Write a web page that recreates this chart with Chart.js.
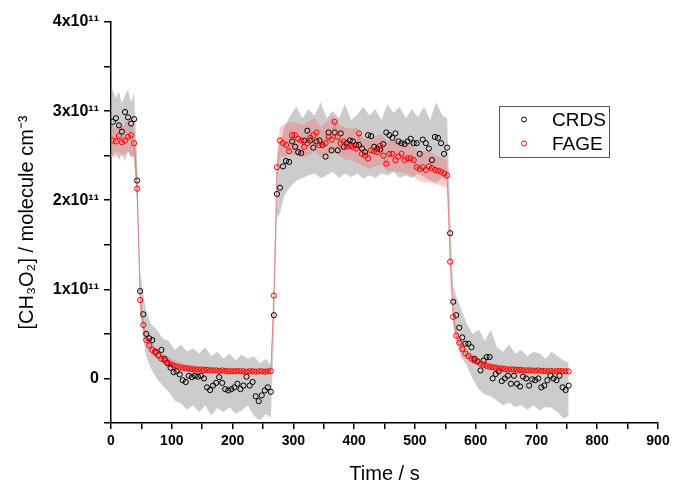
<!DOCTYPE html>
<html>
<head>
<meta charset="utf-8">
<script src="https://cdn.jsdelivr.net/npm/chart.js@4.4.1/dist/chart.umd.min.js"></script>
<style>
  html, body { margin: 0; padding: 0; background: #fff; }
  #wrap { width: 675px; height: 484px; }
</style>
</head>
<body>
<div id="wrap"><canvas id="chart" width="675" height="484"></canvas></div>
<script>
// --- data (y in units of 1x10^11 molecule cm-3) ---
const seriesNames = ["CRDS", "FAGE"];

const times = [
  3, 8, 13, 18, 23, 28, 33, 38, 43, 48,
  53, 58, 63, 68, 73, 78, 83, 88, 93, 98,
  103, 108, 113, 118, 123, 128, 133, 138, 143, 148,
  153, 158, 163, 168, 173, 178, 183, 188, 193, 198,
  203, 208, 213, 218, 223, 228, 233, 238, 243, 248,
  253, 258, 263, 268, 273, 278, 283, 288, 293, 298,
  303, 308, 313, 318, 323, 328, 333, 338, 343, 348,
  353, 358, 363, 368, 373, 378, 383, 388, 393, 398,
  403, 408, 413, 418, 423, 428, 433, 438, 443, 448,
  453, 458, 463, 468, 473, 478, 483, 488, 493, 498,
  503, 508, 513, 518, 523, 528, 533, 538, 543, 548,
  553, 558, 563, 568, 573, 578, 583, 588, 593, 598,
  603, 608, 613, 618, 623, 628, 633, 638, 643, 648,
  653, 658, 663, 668, 673, 678, 683, 688, 693, 698,
  703, 708, 713, 718, 723, 728, 733, 738, 743, 748,
  753
];

const crds = [
  2.88, 2.92, 2.84, 2.77, 2.99, 2.93, 2.86, 2.91, 2.22, 0.98,
  0.72, 0.50, 0.45, 0.43, 0.30, 0.26, 0.32, 0.22, 0.17, 0.12,
  0.07, 0.08, 0.045, -0.02, -0.04, 0.03, 0.015, 0.03, 0.02, 0.03,
  0.00, -0.10, -0.13, -0.08, -0.05, 0.015, -0.05, -0.12, -0.135, -0.12,
  -0.10, -0.06, -0.12, -0.08, 0.02, -0.08, -0.04, -0.20, -0.255, -0.19,
  -0.135, -0.10, -0.15, 0.71, 2.07, 2.14, 2.38, 2.44, 2.43, 2.66,
  2.60, 2.54, 2.53, 2.67, 2.78, 2.67, 2.59, 2.66, 2.67, 2.62,
  2.49, 2.76, 2.56, 2.76, 2.56, 2.75, 2.60, 2.64, 2.67, 2.66,
  2.62, 2.62, 2.58, 2.54, 2.73, 2.72, 2.60, 2.58, 2.57, 2.63,
  2.76, 2.73, 2.70, 2.75, 2.66, 2.64, 2.63, 2.66, 2.69, 2.64,
  2.64, 2.52, 2.68, 2.64, 2.58, 2.45, 2.71, 2.70, 2.64, 2.52,
  2.59, 1.63, 0.86, 0.71, 0.57, 0.46, 0.39, 0.39, 0.35, 0.22,
  0.19, 0.09, 0.20, 0.24, 0.24, 0.00, 0.05, 0.08, -0.03, 0.00,
  0.03, -0.06, 0.03, -0.06, -0.09, 0.02, 0.00, -0.08, -0.01, -0.02,
  0.00, -0.10, -0.08, -0.02, 0.03, 0.00, -0.02, 0.03, -0.10, -0.13,
  -0.08
];

const fage = [
  2.67, 2.66, 2.72, 2.65, 2.67, 2.71, 2.73, 2.64, 2.13, 0.88,
  0.60, 0.43, 0.37, 0.32, 0.29, 0.26, 0.22, 0.20, 0.18, 0.16,
  0.145, 0.135, 0.125, 0.12, 0.115, 0.11, 0.105, 0.10, 0.10, 0.10,
  0.095, 0.095, 0.09, 0.09, 0.09, 0.085, 0.09, 0.085, 0.08, 0.08,
  0.08, 0.085, 0.08, 0.08, 0.075, 0.08, 0.08, 0.075, 0.08, 0.08,
  0.075, 0.08, 0.08, 0.93, 2.37, 2.67, 2.64, 2.62, 2.55, 2.73,
  2.73, 2.69, 2.67, 2.60, 2.64, 2.70, 2.73, 2.76, 2.62, 2.62,
  2.64, 2.71, 2.68, 2.88, 2.71, 2.64, 2.66, 2.60, 2.61, 2.60,
  2.58, 2.75, 2.52, 2.50, 2.47, 2.56, 2.55, 2.54, 2.61, 2.50,
  2.41, 2.52, 2.52, 2.45, 2.49, 2.52, 2.45, 2.47, 2.47, 2.45,
  2.37, 2.35, 2.37, 2.34, 2.38, 2.36, 2.34, 2.33, 2.32, 2.30,
  2.28, 1.31, 0.69, 0.48, 0.40, 0.33, 0.28, 0.25, 0.22, 0.20,
  0.19, 0.165, 0.15, 0.14, 0.13, 0.125, 0.12, 0.11, 0.11, 0.105,
  0.10, 0.10, 0.10, 0.095, 0.095, 0.09, 0.09, 0.09, 0.09, 0.085,
  0.09, 0.085, 0.085, 0.08, 0.085, 0.08, 0.08, 0.085, 0.08, 0.08,
  0.08
];

// uncertainty bands (upper / lower edges)
const bandTimes = [
  1, 8, 13, 18, 23, 28, 33, 38, 43, 48, 53, 58,
  65, 75, 85, 95, 105, 115, 125, 135, 145, 155, 165, 175, 185, 195, 205, 215, 225, 235, 245, 255,
  263, 268, 273, 278,
  285, 295, 305, 315, 325, 335, 345, 355, 365, 375, 385, 395, 405, 415, 425, 435, 445, 455, 465,
  475, 485, 495, 505, 515, 525, 535, 545,
  553, 558, 563, 568,
  575, 585, 595, 605, 615, 625, 635, 645, 655, 665, 675, 685, 695, 705, 715, 725, 735, 745,
  753
];

const crdsHi = [
  3.26, 3.15, 3.22, 3.08, 3.18, 3.24, 3.10, 3.20, 2.45, 1.20, 0.95, 0.76,
  0.62, 0.55, 0.45, 0.42, 0.32, 0.38, 0.30, 0.34, 0.28, 0.35, 0.25, 0.30, 0.22, 0.28, 0.20, 0.27, 0.22, 0.25, 0.17, 0.22,
  0.15, 1.00, 2.35, 2.60,
  2.82, 2.95, 3.05, 2.92, 3.02, 2.95, 3.10, 2.92, 3.00, 2.92, 3.08, 2.90, 2.96, 3.05, 2.95, 3.02, 2.90, 3.08, 2.98,
  3.05, 2.92, 3.02, 2.93, 3.05, 2.90, 3.10, 2.95,
  2.92, 1.85, 1.05, 0.92,
  0.80, 0.62, 0.50, 0.55, 0.42, 0.55, 0.35, 0.30, 0.38, 0.28, 0.32, 0.25, 0.30, 0.28, 0.22, 0.30, 0.25, 0.20,
  0.18
];

const crdsLo = [
  2.48, 2.55, 2.45, 2.52, 2.44, 2.55, 2.48, 2.50, 1.95, 0.75, 0.45, 0.25,
  0.12, 0.00, -0.08, -0.15, -0.25, -0.28, -0.35, -0.30, -0.38, -0.30, -0.42, -0.33, -0.38, -0.32, -0.40, -0.36, -0.30, -0.42, -0.47, -0.40,
  -0.44, 0.45, 1.80, 1.85,
  2.05, 2.15, 2.22, 2.25, 2.28, 2.30, 2.25, 2.28, 2.32, 2.25, 2.30, 2.26, 2.30, 2.24, 2.28, 2.25, 2.30, 2.28, 2.32,
  2.25, 2.28, 2.25, 2.30, 2.26, 2.22, 2.20, 2.25,
  2.22, 1.40, 0.65, 0.45,
  0.25, 0.15, 0.00, -0.12, -0.18, -0.20, -0.25, -0.30, -0.27, -0.32, -0.30, -0.35, -0.30, -0.36, -0.32, -0.33, -0.38, -0.45,
  -0.42
];

const fageHi = [
  2.85, 2.80, 2.88, 2.82, 2.86, 2.90, 2.85, 2.82, 2.30, 0.98, 0.70, 0.52,
  0.42, 0.34, 0.28, 0.24, 0.20, 0.18, 0.16, 0.15, 0.14, 0.13, 0.13, 0.12, 0.12, 0.12, 0.11, 0.11, 0.11, 0.11, 0.11, 0.11,
  0.11, 1.05, 2.50, 2.82,
  2.85, 2.88, 2.87, 2.85, 2.88, 2.92, 2.82, 2.88, 2.95, 2.85, 2.82, 2.80, 2.82, 2.70, 2.68, 2.72, 2.74, 2.66, 2.68,
  2.66, 2.64, 2.62, 2.55, 2.55, 2.54, 2.50, 2.48,
  2.45, 1.45, 0.80, 0.56,
  0.44, 0.33, 0.27, 0.23, 0.20, 0.18, 0.16, 0.15, 0.14, 0.13, 0.13, 0.12, 0.12, 0.12, 0.11, 0.11, 0.11, 0.11,
  0.11
];

const fageLo = [
  2.50, 2.48, 2.55, 2.50, 2.52, 2.55, 2.50, 2.48, 1.95, 0.78, 0.52, 0.36,
  0.28, 0.22, 0.17, 0.14, 0.11, 0.09, 0.08, 0.07, 0.07, 0.06, 0.06, 0.06, 0.05, 0.05, 0.05, 0.05, 0.05, 0.05, 0.05, 0.05,
  0.05, 0.80, 2.20, 2.50,
  2.48, 2.52, 2.50, 2.48, 2.50, 2.55, 2.48, 2.50, 2.55, 2.50, 2.46, 2.45, 2.42, 2.38, 2.36, 2.38, 2.40, 2.32, 2.33,
  2.32, 2.30, 2.28, 2.22, 2.20, 2.20, 2.18, 2.16,
  2.14, 1.18, 0.60, 0.42,
  0.32, 0.23, 0.18, 0.15, 0.12, 0.10, 0.09, 0.08, 0.07, 0.07, 0.06, 0.06, 0.06, 0.06, 0.05, 0.05, 0.05, 0.05,
  0.05
];

// --- helpers ---
const toPoints = (xs, ys) => xs.map((x, i) => ({ x: x, y: ys[i] }));
const markerColors = ["#000000", "#ff0000"];
const font = "'Liberation Sans', Arial, sans-serif";

// legend drawn in the upper right of the plot, like the original
const legendBox = {
  id: "legendBox",
  afterDraw(chart) {
    const { ctx, chartArea } = chart;
    const left = chartArea.left + 388;
    const top = chartArea.top + 84;
    ctx.save();
    ctx.strokeStyle = "#555";
    ctx.lineWidth = 1;
    ctx.strokeRect(left + 0.5, top + 0.5, 110, 51);
    ctx.font = "19px " + font;
    ctx.textBaseline = "middle";
    ctx.fillStyle = "#000";
    seriesNames.forEach((name, i) => {
      const y = top + 13.5 + i * 24;
      ctx.beginPath();
      ctx.arc(left + 25, y, 2.5, 0, Math.PI * 2);
      ctx.strokeStyle = markerColors[i];
      ctx.stroke();
      ctx.fillText(name, left + 53, y + 1);
    });
    ctx.restore();
  }
};

// --- chart ---
new Chart(document.getElementById("chart"), {
  type: "line",
  data: {
    datasets: [
      {
        label: "FAGE", data: toPoints(times, fage), order: 0,
        showLine: true, borderColor: "rgba(215,70,70,0.45)", borderWidth: 1,
        pointRadius: 2.6, pointBorderWidth: 1, pointBorderColor: markerColors[1],
        pointBackgroundColor: "rgba(0,0,0,0)", fill: false
      },
      {
        label: "CRDS", data: toPoints(times, crds), order: 1,
        showLine: false,
        pointRadius: 2.6, pointBorderWidth: 1, pointBorderColor: markerColors[0],
        pointBackgroundColor: "rgba(0,0,0,0)", fill: false
      },
      {
        label: "FAGE hi", data: toPoints(bandTimes, fageHi), order: 2,
        borderWidth: 0, pointRadius: 0, fill: 3, backgroundColor: "rgba(255,90,90,0.3)"
      },
      {
        label: "FAGE lo", data: toPoints(bandTimes, fageLo), order: 2,
        borderWidth: 0, pointRadius: 0, fill: false
      },
      {
        label: "CRDS hi", data: toPoints(bandTimes, crdsHi), order: 3,
        borderWidth: 0, pointRadius: 0, fill: 5, backgroundColor: "#cccccc"
      },
      {
        label: "CRDS lo", data: toPoints(bandTimes, crdsLo), order: 3,
        borderWidth: 0, pointRadius: 0, fill: false
      }
    ]
  },
  options: {
    responsive: false,
    animation: false,
    events: [],
    layout: { padding: { top: 22, right: 17, bottom: -2, left: 0 } },
    plugins: {
      legend: { display: false },
      tooltip: { enabled: false }
    },
    scales: {
      x: {
        type: "linear", min: 0, max: 900,
        border: { color: "#000", width: 1.5 },
        grid: { drawOnChartArea: false, drawTicks: true, tickLength: 6, color: "#000", lineWidth: 1.5 },
        ticks: {
          stepSize: 50, autoSkip: false, maxRotation: 0, padding: 4, color: "#000",
          font: { family: font, size: 14, weight: "bold" },
          callback: v => (v % 100 === 0 ? String(v) : "")
        },
        title: {
          display: true, text: "Time / s", color: "#000",
          font: { family: font, size: 20 }, padding: { top: 0, bottom: 0 }
        },
        afterFit: scale => { scale.height = 63; }
      },
      y: {
        min: -0.5, max: 4,
        border: { color: "#000", width: 1.5 },
        grid: { drawOnChartArea: false, drawTicks: true, tickLength: 7, color: "#000", lineWidth: 1.5 },
        ticks: {
          stepSize: 0.5, autoSkip: false, padding: 5, color: "#000",
          font: { family: font, size: 16, weight: "bold" },
          callback: v => (v === 0 ? "0" : Number.isInteger(v) ? v + "x10\u00b9\u00b9" : "")
        },
        title: {
          display: true, text: "[CH\u2083O\u2082] / molecule cm\u207b\u00b3", color: "#000",
          font: { family: font, size: 20 }, padding: { top: 15, bottom: 0 }
        },
        afterFit: scale => { scale.width = 111; }
      }
    }
  },
  plugins: [legendBox]
});
</script>
</body>
</html>
